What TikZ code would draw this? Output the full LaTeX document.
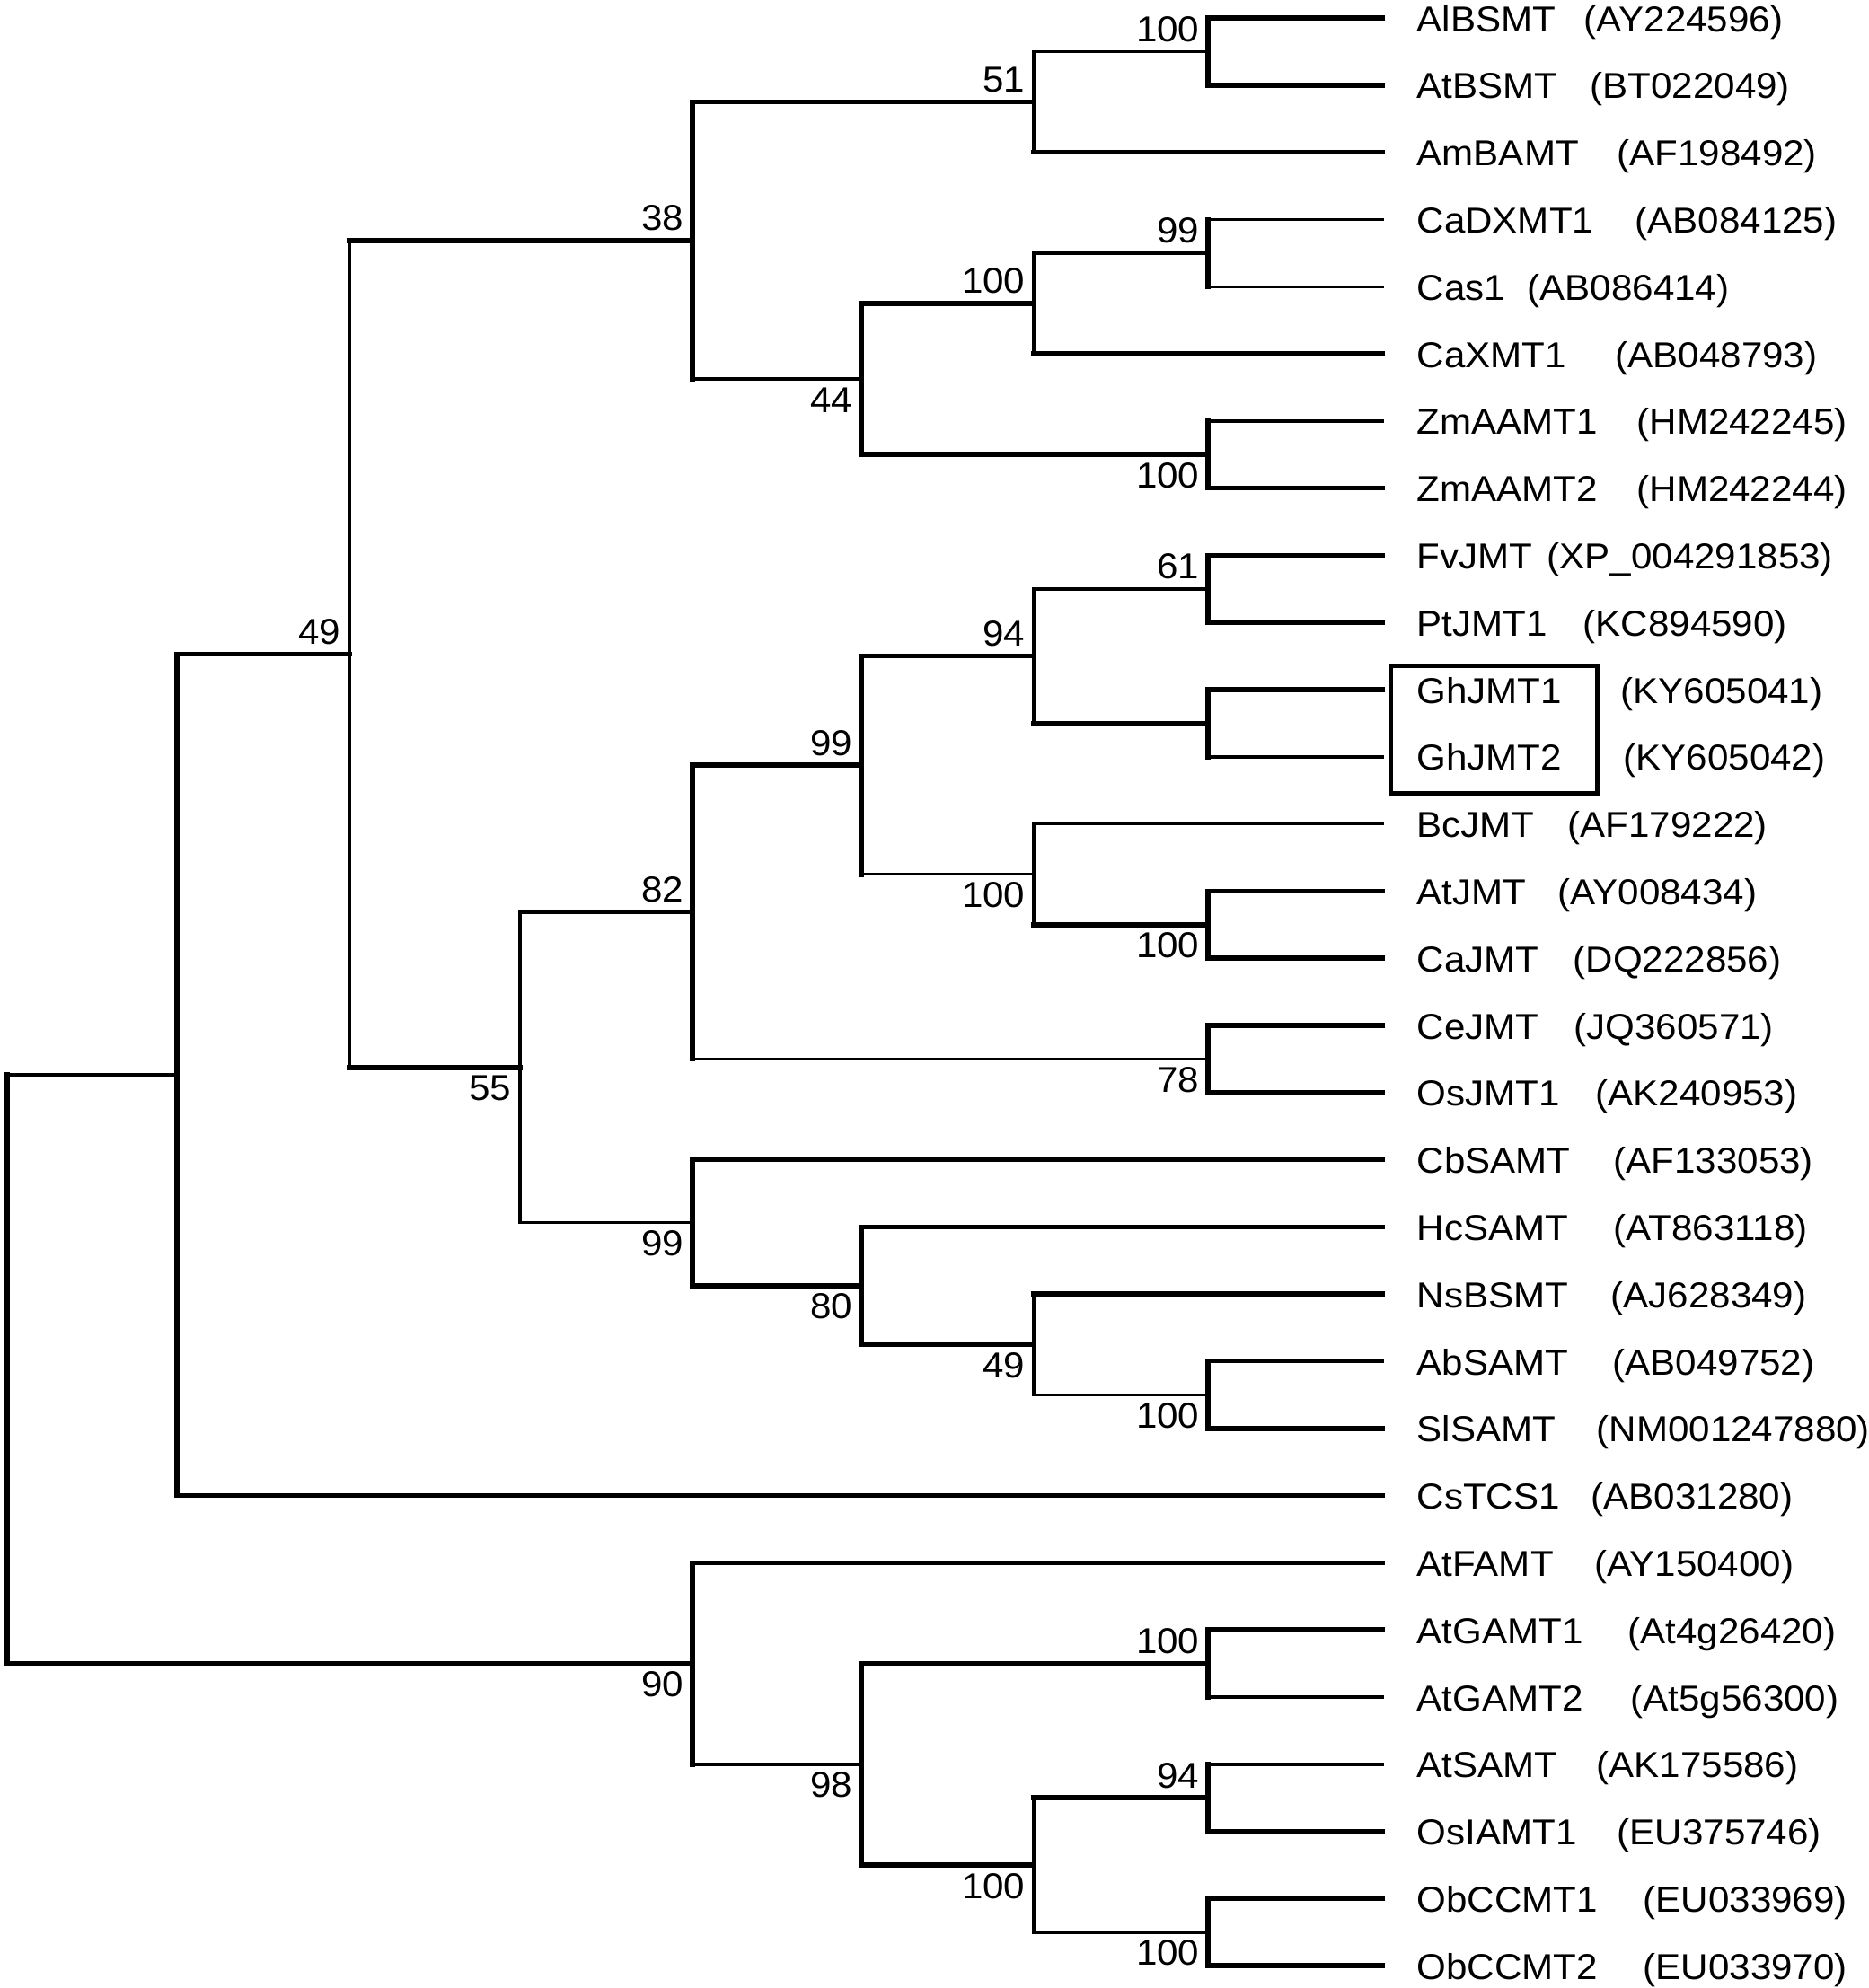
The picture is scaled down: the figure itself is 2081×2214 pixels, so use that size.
\documentclass[tikz,border=0pt]{standalone}
\usepackage{fontspec}
\setmainfont{Liberation Sans}[FakeStretch=1.05]
\usetikzlibrary{calc}
\newcommand\mkleaf[5]{%
  \coordinate (t#1) at (1539,#2);
  \node[lab] (n#1) at (1577,#2+15) {#3};
  \node[lab] (a#1) at (#5,#2+15) {#4};}
\newcommand\hb[3]{\draw[#1] (#2 |- #3) -- (#3);}
\newcommand\vb[4]{\draw[#1] (#2 |- #3) -- (#2 |- #4);}
\newcommand\bsup[3]{\node[num] (b#1) at ($(#1)+(-9,-11)$) {#2};}
\newcommand\bsdn[3]{\node[num] (b#1) at ($(#1)+(-9,37)$) {#2};}
\begin{document}
\begin{tikzpicture}[x=0.01cm,y=-0.01cm,
  thk/.style={line width=0.056cm, line cap=rect},
  thn/.style={line width=0.034cm, line cap=rect},
  lab/.style={anchor=base west, inner sep=0pt, font=\fontsize{11.4pt}{13pt}\selectfont},
  num/.style={anchor=base east, inner sep=0pt, font=\fontsize{11.4pt}{13pt}\selectfont},
  boxst/.style={draw, line width=0.05cm, minimum width=2.29cm, minimum height=1.41cm, inner sep=0pt}]
\useasboundingbox[fill=white] (0,0) rectangle (2081,2214);

% leaves
\mkleaf{0}{20}{AlBSMT}{(AY224596)}{1763}
\mkleaf{1}{94.8}{AtBSMT}{(BT022049)}{1770}
\mkleaf{2}{169.6}{AmBAMT}{(AF198492)}{1800}
\mkleaf{3}{244.4}{CaDXMT1}{(AB084125)}{1820}
\mkleaf{4}{319.2}{Cas1}{(AB086414)}{1700}
\mkleaf{5}{394}{CaXMT1}{(AB048793)}{1798}
\mkleaf{6}{468.8}{ZmAAMT1}{(HM242245)}{1822}
\mkleaf{7}{543.6}{ZmAAMT2}{(HM242244)}{1822}
\mkleaf{8}{618.4}{FvJMT}{(XP\_004291853)}{1722}
\mkleaf{9}{693.2}{PtJMT1}{(KC894590)}{1762}
\mkleaf{10}{768}{GhJMT1}{(KY605041)}{1804}
\mkleaf{11}{842.8}{GhJMT2}{(KY605042)}{1807}
\mkleaf{12}{917.6}{BcJMT}{(AF179222)}{1745}
\mkleaf{13}{992.4}{AtJMT}{(AY008434)}{1734}
\mkleaf{14}{1067.2}{CaJMT}{(DQ222856)}{1751}
\mkleaf{15}{1142}{CeJMT}{(JQ360571)}{1752}
\mkleaf{16}{1216.8}{OsJMT1}{(AK240953)}{1776}
\mkleaf{17}{1291.6}{CbSAMT}{(AF133053)}{1796}
\mkleaf{18}{1366.4}{HcSAMT}{(AT863118)}{1796}
\mkleaf{19}{1441.2}{NsBSMT}{(AJ628349)}{1793}
\mkleaf{20}{1516}{AbSAMT}{(AB049752)}{1795}
\mkleaf{21}{1590.8}{SlSAMT}{(NM001247880)}{1777}
\mkleaf{22}{1665.6}{CsTCS1}{(AB031280)}{1771}
\mkleaf{23}{1740.4}{AtFAMT}{(AY150400)}{1775}
\mkleaf{24}{1815.2}{AtGAMT1}{(At4g26420)}{1812}
\mkleaf{25}{1890}{AtGAMT2}{(At5g56300)}{1815}
\mkleaf{26}{1964.8}{AtSAMT}{(AK175586)}{1777}
\mkleaf{27}{2039.6}{OsIAMT1}{(EU375746)}{1800}
\mkleaf{28}{2114.4}{ObCCMT1}{(EU033969)}{1829}
\mkleaf{29}{2189.2}{ObCCMT2}{(EU033970)}{1829}

% internal nodes
\coordinate (R) at (8,1524.8);
\coordinate (A) at (197,1197);
\coordinate (B) at (771,1852.6);
\coordinate (C) at (389,728.3);
\coordinate (D) at (771,267.8);
\coordinate (E) at (579,1188.75);
\coordinate (F) at (1151,113.5);
\coordinate (G) at (959,422.05);
\coordinate (H) at (1345,57.4);
\coordinate (I) at (1151,337.9);
\coordinate (J) at (1345,506.2);
\coordinate (K) at (1345,281.8);
\coordinate (M) at (771,1015.8);
\coordinate (N) at (771,1361.7);
\coordinate (P) at (959,852.15);
\coordinate (Q) at (1345,1179.4);
\coordinate (S) at (1151,730.6);
\coordinate (T) at (1151,973.7);
\coordinate (U) at (1345,655.8);
\coordinate (V) at (1345,805.4);
\coordinate (W) at (1345,1029.8);
\coordinate (X) at (959,1431.85);
\coordinate (Y) at (1151,1497.3);
\coordinate (Z) at (1345,1553.4);
\coordinate (BB) at (959,1964.8);
\coordinate (CC) at (1345,1852.6);
\coordinate (DD) at (1151,2077);
\coordinate (EE) at (1345,2002.2);
\coordinate (FF) at (1345,2151.8);

% vertical bars
\vb{thk}{R}{A}{B}
\vb{thk}{A}{C}{t22}
\vb{thn}{C}{D}{E}
\vb{thk}{D}{F}{G}
\vb{thn}{E}{M}{N}
\vb{thn}{F}{H}{t2}
\vb{thk}{G}{I}{J}
\vb{thk}{H}{t0}{t1}
\vb{thn}{I}{K}{t5}
\vb{thk}{J}{t6}{t7}
\vb{thk}{K}{t3}{t4}
\vb{thk}{M}{P}{Q}
\vb{thk}{N}{t17}{X}
\vb{thk}{P}{S}{T}
\vb{thk}{Q}{t15}{t16}
\vb{thn}{S}{U}{V}
\vb{thn}{T}{t12}{W}
\vb{thk}{U}{t8}{t9}
\vb{thk}{V}{t10}{t11}
\vb{thk}{W}{t13}{t14}
\vb{thk}{X}{t18}{Y}
\vb{thn}{Y}{t19}{Z}
\vb{thk}{Z}{t20}{t21}
\vb{thk}{B}{t23}{BB}
\vb{thk}{BB}{CC}{DD}
\vb{thk}{CC}{t24}{t25}
\vb{thn}{DD}{EE}{FF}
\vb{thk}{EE}{t26}{t27}
\vb{thk}{FF}{t28}{t29}

% horizontal branches
\hb{thn}{R}{A} \hb{thk}{R}{B}
\hb{thk}{A}{C} \hb{thk}{A}{t22}
\hb{thk}{C}{D} \hb{thk}{C}{E}
\hb{thk}{D}{F} \hb{thn}{D}{G}
\hb{thn}{F}{H} \hb{thk}{F}{t2}
\hb{thk}{H}{t0} \hb{thk}{H}{t1}
\hb{thk}{G}{I} \hb{thk}{G}{J}
\hb{thn}{I}{K} \hb{thk}{I}{t5}
\hb{thn}{K}{t3} \hb{thn}{K}{t4}
\hb{thn}{J}{t6} \hb{thk}{J}{t7}
\hb{thn}{E}{M} \hb{thn}{E}{N}
\hb{thk}{M}{P} \hb{thn}{M}{Q}
\hb{thk}{P}{S} \hb{thn}{P}{T}
\hb{thn}{S}{U} \hb{thk}{S}{V}
\hb{thk}{U}{t8} \hb{thk}{U}{t9}
\hb{thk}{V}{t10} \hb{thn}{V}{t11}
\hb{thn}{T}{t12} \hb{thk}{T}{W}
\hb{thk}{W}{t13} \hb{thk}{W}{t14}
\hb{thk}{Q}{t15} \hb{thk}{Q}{t16}
\hb{thk}{N}{t17} \hb{thk}{N}{X}
\hb{thk}{X}{t18} \hb{thk}{X}{Y}
\hb{thk}{Y}{t19} \hb{thn}{Y}{Z}
\hb{thn}{Z}{t20} \hb{thk}{Z}{t21}
\hb{thk}{B}{t23} \hb{thn}{B}{BB}
\hb{thk}{BB}{CC} \hb{thk}{BB}{DD}
\hb{thk}{CC}{t24} \hb{thn}{CC}{t25}
\hb{thk}{DD}{EE} \hb{thn}{DD}{FF}
\hb{thn}{EE}{t26} \hb{thk}{EE}{t27}
\hb{thk}{FF}{t28} \hb{thk}{FF}{t29}

% bootstrap values
\bsup{H}{100}{} \bsup{F}{51}{} \bsup{D}{38}{} \bsup{C}{49}{}
\bsdn{G}{44}{} \bsup{I}{100}{} \bsup{K}{99}{} \bsdn{J}{100}{}
\bsdn{E}{55}{} \bsup{M}{82}{} \bsup{P}{99}{} \bsup{S}{94}{}
\bsup{U}{61}{} \bsdn{T}{100}{} \bsdn{W}{100}{} \bsdn{Q}{78}{}
\bsdn{N}{99}{} \bsdn{X}{80}{} \bsdn{Y}{49}{} \bsdn{Z}{100}{}
\bsdn{B}{90}{} \bsdn{BB}{98}{} \bsup{CC}{100}{} \bsdn{DD}{100}{}
\bsup{EE}{94}{} \bsdn{FF}{100}{}

% highlight box
\node[boxst] (box) at (1663.5,812.5) {};
\end{tikzpicture}
\end{document}
